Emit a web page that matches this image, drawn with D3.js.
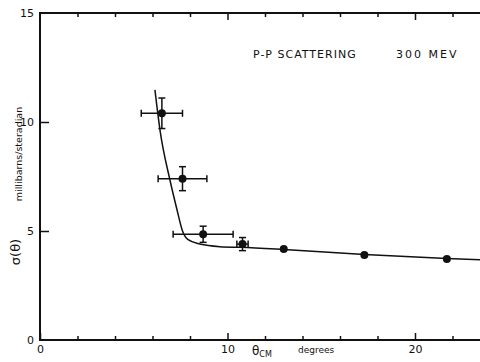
<!DOCTYPE html>
<html lang="en">
<meta charset="utf-8">
<style>
body { margin: 0; background: #fff; }
text { font-family: "DejaVu Sans", sans-serif; fill: #111; }
</style>
<body>
<script src="https://d3js.org/d3.v7.min.js"></script>
<script>
// measured points: angle (deg, CM), cross section (mb/sr), errors
var theta  = [6.5, 7.6, 8.7, 10.8, 13.0, 17.3, 21.7];
var sigma  = [10.4, 7.4, 4.85, 4.4, 4.17, 3.9, 3.72];
var dTheta = [1.1, 1.3, 1.6, 0.3, 0, 0, 0];
var dSigma = [0.7, 0.55, 0.37, 0.3, 0, 0, 0];

// fitted curve
var curveTheta = [6.13, 6.4, 6.93, 7.3, 7.6, 7.9, 8.53, 9.6, 10.7, 13.0, 17.3, 21.7, 24];
var curveSigma = [11.47, 9.63, 7.34, 6.0, 5.0, 4.6, 4.4, 4.28, 4.25, 4.15, 3.92, 3.74, 3.66];

var majorX = [0, 10, 20];
var minorX = [2, 4, 6, 8, 12, 14, 16, 18, 22];
var yTicks = [0, 5, 10, 15];

var w = 480, h = 362;

var svg = d3.select("body").append("svg")
  .attr("width", w)
  .attr("height", h);

var x = d3.scaleLinear().domain([0, 24]).range([40, 490]);
var y = d3.scaleLinear().domain([0, 15]).range([340, 13]);

// frame
svg.append("rect")
  .attr("x", x(0)).attr("y", y(15))
  .attr("width", x(24) - x(0)).attr("height", y(0) - y(15))
  .attr("fill", "none").attr("stroke", "#111").attr("stroke-width", 2);

function ticksOnly(axis) {
  return function(g) {
    g.call(axis);
    g.select(".domain").remove();
    g.selectAll("line").attr("stroke", "#111").attr("stroke-width", 1.5);
  };
}

// bottom: major with labels, minor without
svg.append("g").attr("transform", "translate(0," + y(0) + ")")
  .call(ticksOnly(d3.axisBottom(x).tickValues(majorX).tickSizeInner(-7).tickSizeOuter(0).tickPadding(5).tickFormat(d3.format("d"))))
  .selectAll("text").attr("font-size", 11).attr("fill", "#111").style("font-family", "DejaVu Sans");
svg.append("g").attr("transform", "translate(0," + y(0) + ")")
  .call(ticksOnly(d3.axisBottom(x).tickValues(minorX).tickSizeInner(-4).tickSizeOuter(0).tickFormat("")));

// top
svg.append("g").attr("transform", "translate(0," + y(15) + ")")
  .call(ticksOnly(d3.axisTop(x).tickValues(majorX.slice(1)).tickSizeInner(-7).tickSizeOuter(0).tickFormat("")));
svg.append("g").attr("transform", "translate(0," + y(15) + ")")
  .call(ticksOnly(d3.axisTop(x).tickValues(minorX).tickSizeInner(-4).tickSizeOuter(0).tickFormat("")));

// left with labels
var yAx = svg.append("g").attr("transform", "translate(" + x(0) + ",0)")
  .call(ticksOnly(d3.axisLeft(y).tickValues(yTicks).tickSizeInner(-9).tickSizeOuter(0).tickPadding(6)));
yAx.selectAll("text").attr("font-size", 11).attr("fill", "#111").style("font-family", "DejaVu Sans");
yAx.selectAll(".tick").filter(function(d) { return d === 0 || d === 15; }).select("line").remove();

// right ticks
svg.append("g").attr("transform", "translate(" + x(24) + ",0)")
  .call(ticksOnly(d3.axisRight(y).tickValues([5, 10]).tickSizeInner(-9).tickSizeOuter(0).tickFormat("")));

// curve
var line = d3.line()
  .x(function(d) { return x(d[0]); })
  .y(function(d) { return y(d[1]); })
  .curve(d3.curveMonotoneX);

svg.append("path")
  .datum(d3.zip(curveTheta, curveSigma))
  .attr("d", line)
  .attr("fill", "none")
  .attr("stroke", "#111")
  .attr("stroke-width", 1.5);

// error bars and points
var pts = d3.range(theta.length);
var cap = 3.5;
var eb = svg.append("g").attr("stroke", "#111").attr("stroke-width", 1.5);

pts.forEach(function(i) {
  if (dTheta[i] > 0) {
    var x0 = x(theta[i] - dTheta[i]), x1 = x(theta[i] + dTheta[i]), yy = y(sigma[i]);
    eb.append("line").attr("x1", x0).attr("x2", x1).attr("y1", yy).attr("y2", yy);
    eb.append("line").attr("x1", x0).attr("x2", x0).attr("y1", yy - cap).attr("y2", yy + cap);
    eb.append("line").attr("x1", x1).attr("x2", x1).attr("y1", yy - cap).attr("y2", yy + cap);
  }
  if (dSigma[i] > 0) {
    var y0 = y(sigma[i] - dSigma[i]), y1 = y(sigma[i] + dSigma[i]), xx = x(theta[i]);
    eb.append("line").attr("x1", xx).attr("x2", xx).attr("y1", y0).attr("y2", y1);
    eb.append("line").attr("x1", xx - cap).attr("x2", xx + cap).attr("y1", y0).attr("y2", y0);
    eb.append("line").attr("x1", xx - cap).attr("x2", xx + cap).attr("y1", y1).attr("y2", y1);
  }
});

svg.append("g").selectAll("circle")
  .data(pts)
  .enter()
  .append("circle")
  .attr("cx", function(i) { return x(theta[i]); })
  .attr("cy", function(i) { return y(sigma[i]); })
  .attr("r", 4)
  .attr("fill", "#111");

// title
svg.append("text").attr("x", 253).attr("y", 58)
  .attr("font-size", 11).style("letter-spacing", "1px")
  .text("P-P SCATTERING");
svg.append("text").attr("x", 396).attr("y", 58)
  .attr("font-size", 11).style("letter-spacing", "2px")
  .text("300 MEV");

// axis titles
svg.append("text").attr("x", 252).attr("y", 355).attr("font-size", 12).text("θ")
  .append("tspan").attr("font-size", 8).attr("dy", 2).text("CM");
svg.append("text").attr("x", 298).attr("y", 353).attr("font-size", 9).text("degrees");

svg.append("text")
  .attr("transform", "translate(20,252) rotate(-90)")
  .attr("text-anchor", "middle").attr("font-size", 13)
  .text("σ(θ)");
svg.append("text")
  .attr("transform", "translate(22,154) rotate(-90)")
  .attr("text-anchor", "middle").attr("font-size", 9.5)
  .text("millibarns/steradian");
</script>
</body>
</html>
